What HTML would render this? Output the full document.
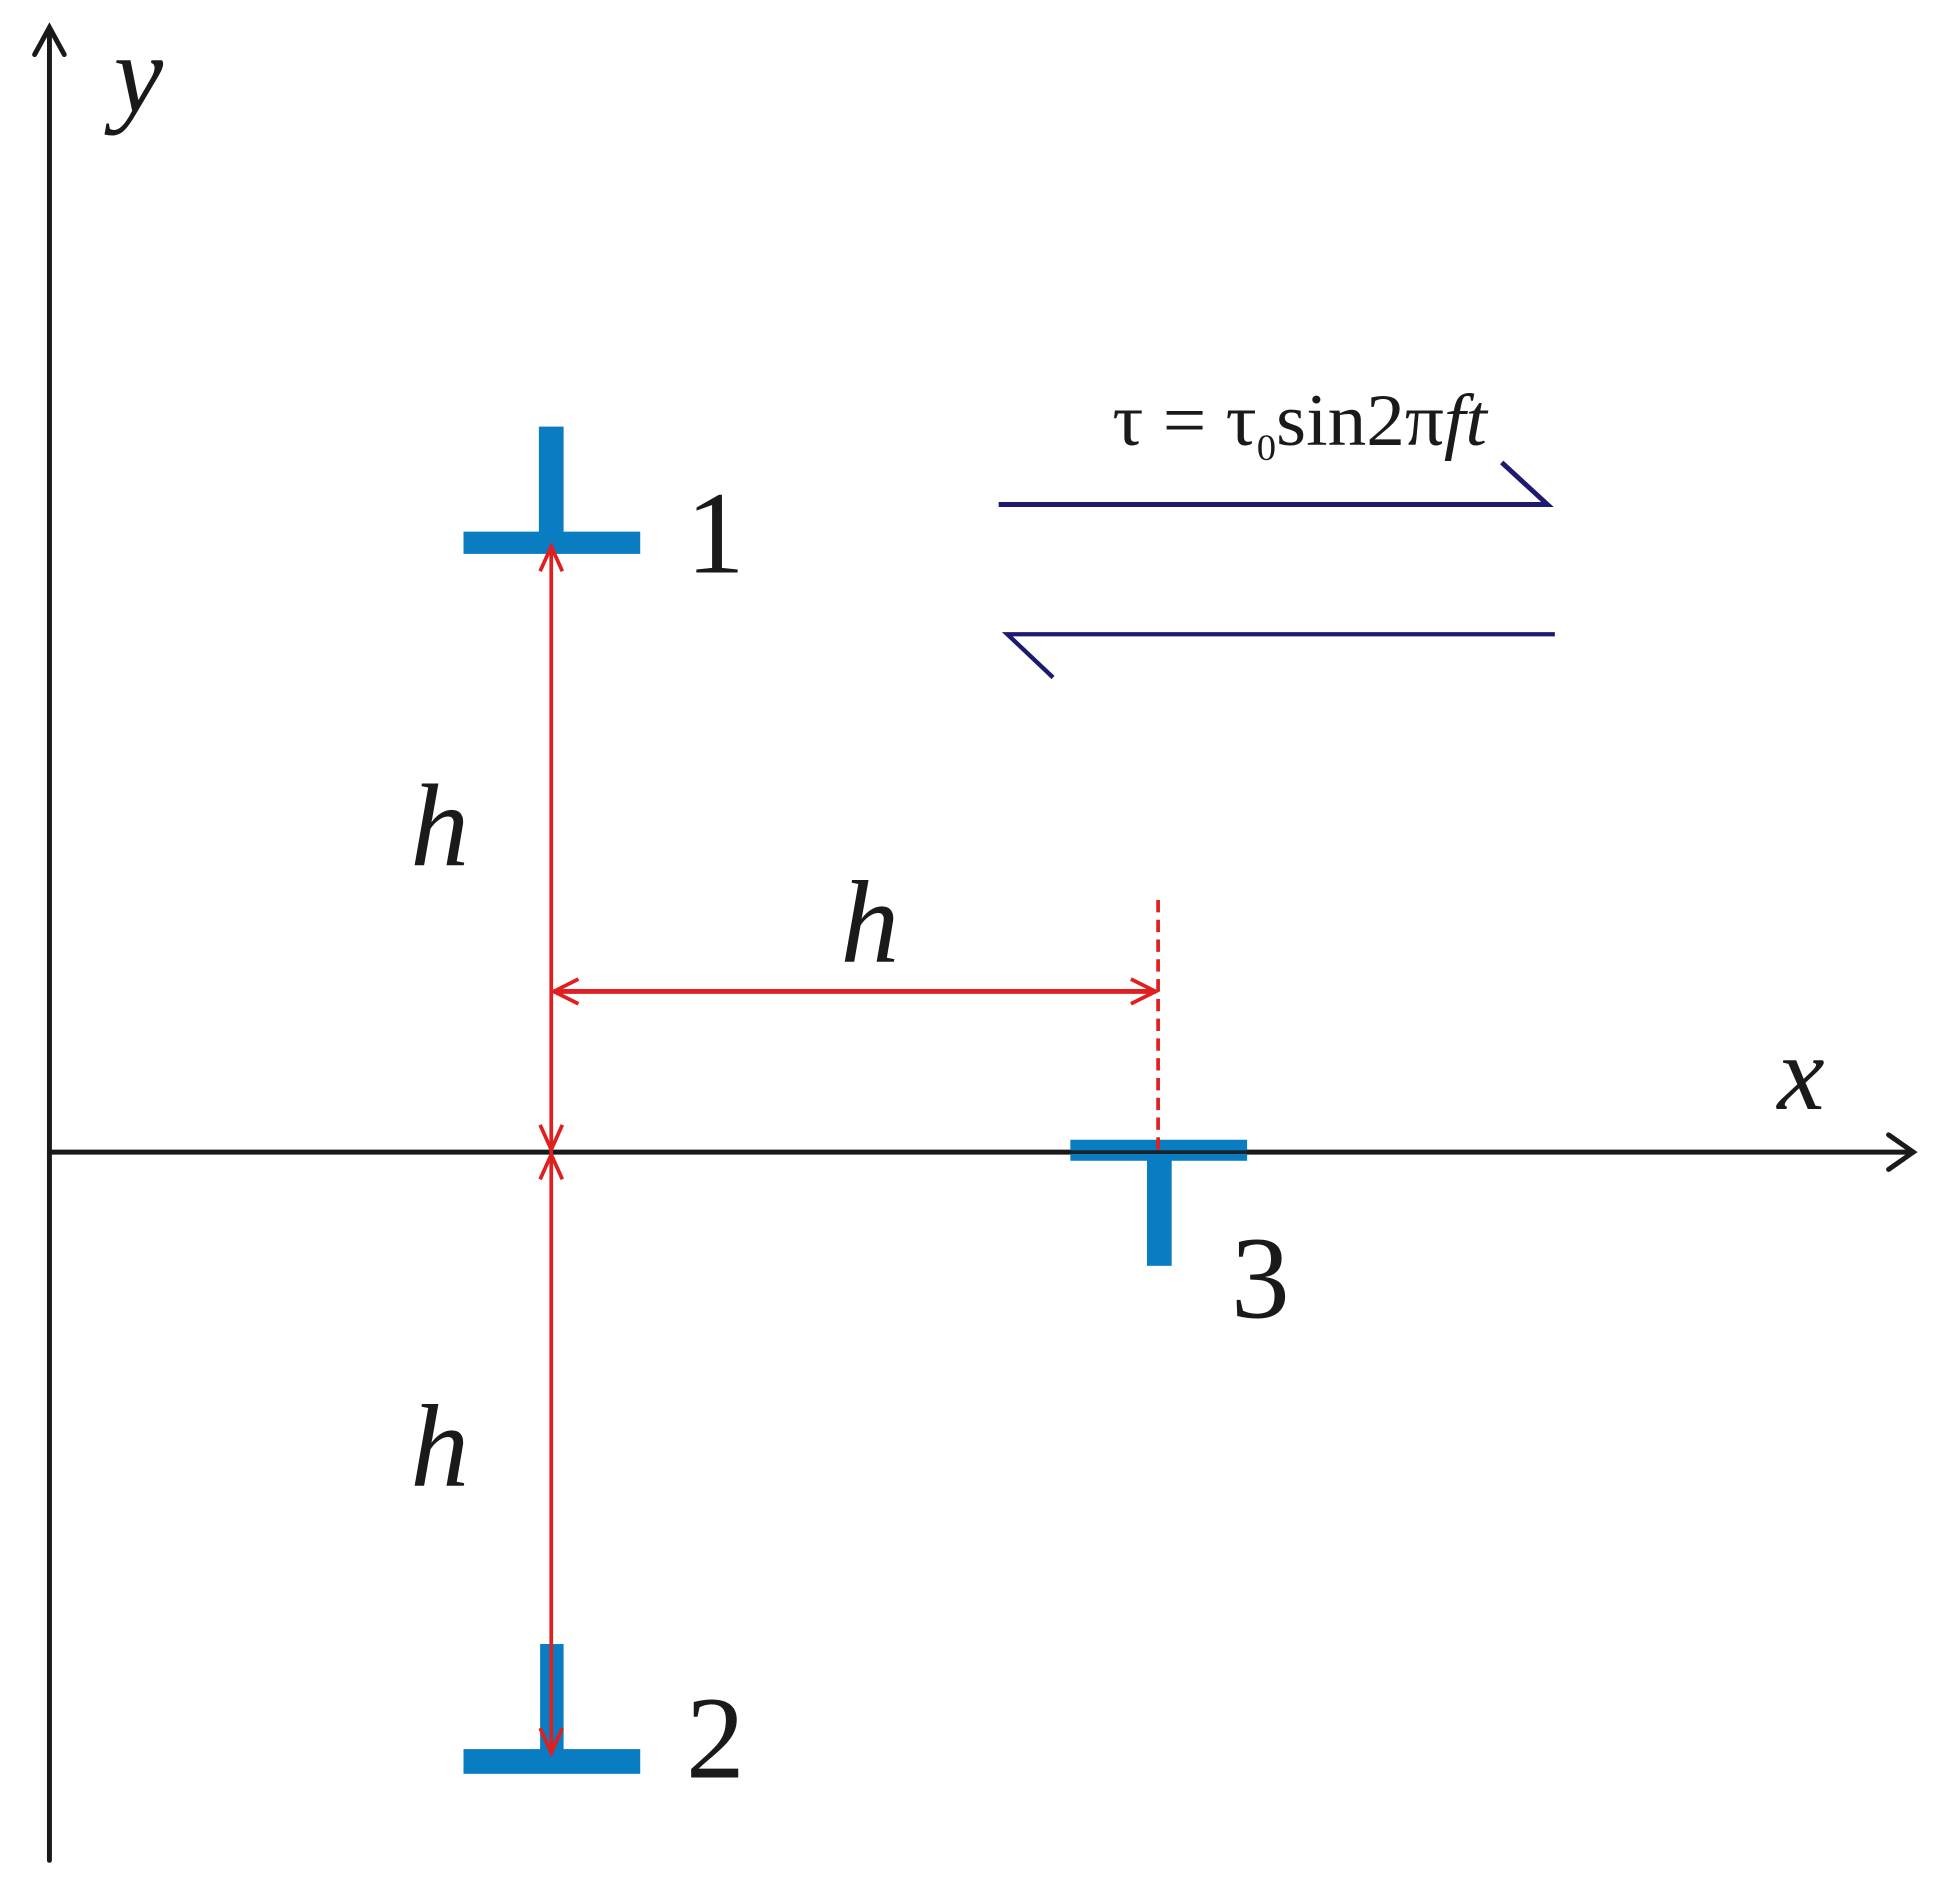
<!DOCTYPE html>
<html><head><meta charset="utf-8"><style>
html,body{margin:0;padding:0;background:#fff;}
svg{display:block;}
text{font-family:"Liberation Serif",serif;fill:#1a1a1a;}
</style></head><body>
<svg width="1938" height="1884" viewBox="0 0 1568 1524" xmlns="http://www.w3.org/2000/svg">
<g stroke="#1a1a1a" stroke-width="4" fill="none" stroke-linecap="round">
<line x1="40" y1="24" x2="40" y2="1505"/>
<polyline points="28,44 40,22 52,44"/>
<line x1="40" y1="932" x2="1546" y2="932"/>
<polyline points="1528,918 1548,932 1528,946"/>
</g>
<text x="92" y="90" font-size="90" font-style="italic">y</text>
<text x="1438" y="897" font-size="86" font-style="italic">x</text>
<g fill="#0a7cc2">
<rect x="436" y="345" width="20" height="95"/>
<rect x="375" y="430" width="143" height="18"/>
<rect x="866" y="922" width="143" height="17"/>
<rect x="928" y="932" width="20" height="92"/>
<rect x="437" y="1330" width="19" height="90"/>
<rect x="375" y="1415" width="143" height="20"/>
</g>
<line x1="40" y1="932" x2="1540" y2="932" stroke="#1a1a1a" stroke-width="3" opacity="0.9"/>
<text x="555" y="463" font-size="95">1</text>
<text x="996" y="1066" font-size="95">3</text>
<text x="555" y="1438" font-size="95">2</text>
<g stroke="#e02020" stroke-width="3" fill="none">
<line x1="446" y1="442" x2="446" y2="1418"/>
<polyline points="437,462 446,442 455,462"/>
<polyline points="437,910 446,930 455,910"/>
<polyline points="437,954 446,934 455,954"/>
<polyline points="437,1398 446,1418 455,1398"/>
<line x1="448" y1="802" x2="935" y2="802" stroke-width="4"/>
<polyline points="468,792 448,802 468,812"/>
<polyline points="915,792 935,802 915,812"/>
<line x1="937" y1="728" x2="937" y2="930" stroke-dasharray="10,6"/>
</g>
<text x="332" y="700" font-size="95" font-style="italic">h</text>
<text x="680" y="778" font-size="95" font-style="italic">h</text>
<text x="332" y="1202" font-size="95" font-style="italic">h</text>
<g stroke="#1e1a70" stroke-width="4" fill="none">
<polyline points="808,408 1252,408 1215,374"/>
<polyline points="1258,513 815,513 852,548" stroke-width="3.5"/>
</g>
<text x="900" y="360" font-size="60" textLength="303" lengthAdjust="spacingAndGlyphs">τ = τ<tspan font-size="30" dy="12">0</tspan><tspan dy="-12">sin2π</tspan><tspan font-style="italic">ft</tspan></text>
</svg>
</body></html>
